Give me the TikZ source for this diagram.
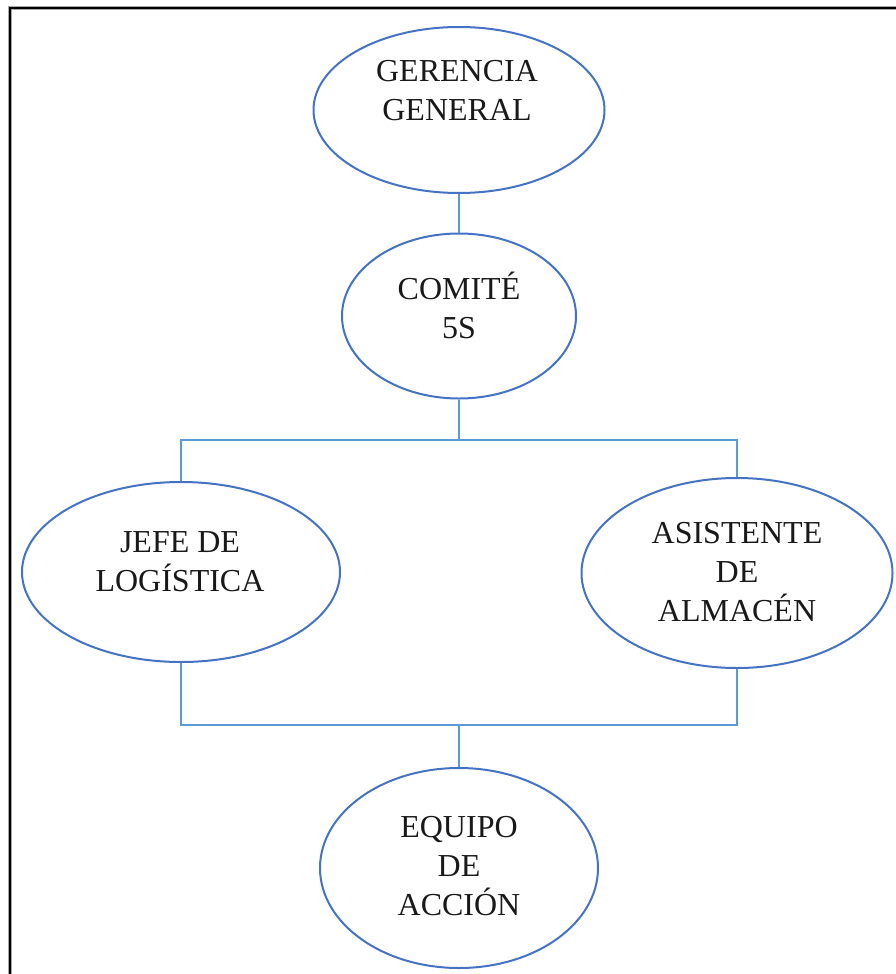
\documentclass[tikz,border=0pt]{standalone}
\usepackage{fontspec}
\setmainfont{Liberation Serif}
\usetikzlibrary{shapes.geometric}
\definecolor{ringblue}{HTML}{4472C4}
\definecolor{wireblue}{HTML}{5B9BD5}
\tikzset{
  unit/.style={draw=ringblue, line width=2pt, ellipse, inner sep=0pt},
  caption/.style={align=center, font=\fontsize{32}{39}\selectfont, text=black!90},
  wire/.style={draw=wireblue, line width=2pt},
}
\begin{document}
\begin{tikzpicture}[x=1pt, y=-1pt]
  \useasboundingbox (0,0) rectangle (896,974);
  % outer frame (left and top edges only)
  \draw[gray!70, line width=4pt] (10,974) -- (10,8) -- (896,8);
  \draw[black, line width=2pt] (10,974) -- (10,8) -- (896,8);

  % organisation units
  \node[unit, minimum width=291pt, minimum height=166pt] (ger) at (459,110) {};
  \node[unit, minimum width=234pt, minimum height=165pt] (com) at (459,316) {};
  \node[unit, minimum width=318pt, minimum height=180pt] (jefe) at (181,572) {};
  \node[unit, minimum width=311pt, minimum height=190pt] (asis) at (737,573) {};
  \node[unit, minimum width=278pt, minimum height=200pt] (eq) at (459,868) {};

  % unit titles
  \node[caption] (tger) at (457,91) {GERENCIA\\GENERAL};
  \node[caption] (tcom) at (459,305) {COMITÉ\\5S};
  \node[caption] (tjefe) at (180,562) {JEFE DE\\LOGÍSTICA};
  \node[caption] (tasis) at (737,572) {ASISTENTE\\DE\\ALMACÉN};
  \node[caption] (teq) at (459,866) {EQUIPO\\DE\\ACCIÓN};

  % connectors
  \coordinate (split) at (459,440);
  \coordinate (join) at (459,725);
  \draw[wire] (ger.south) -- (com.north);
  \draw[wire] (com.south) -- (split);
  \draw[wire] (jefe.north) |- (split) -| (asis.north);
  \draw[wire] (jefe.south) |- (join) -| (asis.south);
  \draw[wire] (join) -- (eq.north);
\end{tikzpicture}
\end{document}
